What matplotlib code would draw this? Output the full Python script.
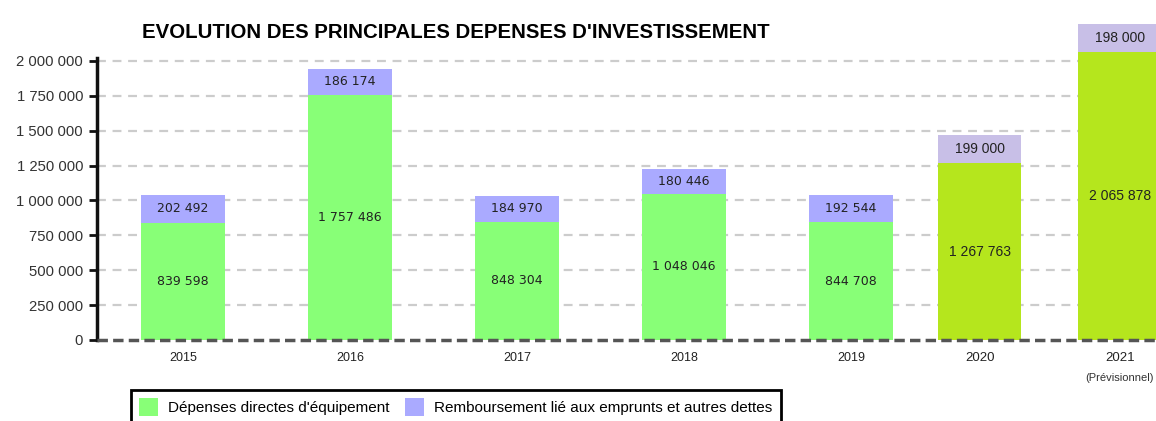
import matplotlib.pyplot as plt
import numpy as np

years = ['2015', '2016', '2017', '2018', '2019', '2020', '2021']
equipement = [839598, 1757486, 848304, 1048046, 844708, 1267763, 2065878]
remboursement = [202492, 186174, 184970, 180446, 192544, 199000, 198000]

# bar centres (the last two bars sit closer together in the original)
xpos = np.array([0, 1, 2, 3, 4, 4.77, 5.61])
green = ['#88ff77'] * 5 + ['#b5e61d'] * 2
purple = ['#aaaaff'] * 5 + ['#c8bfe7'] * 2

plt.rcParams['font.family'] = ['Liberation Sans', 'DejaVu Sans']

fig = plt.figure(figsize=(11.56, 4.21), dpi=100)
ax = fig.add_axes([0.0839, 0.1924, 0.9161, 0.6698])

for y in np.arange(250000, 2000001, 250000):
    ax.axhline(y, color='#cccccc', lw=1.6, ls=(0, (4, 3)), zorder=0)

b1 = ax.bar(xpos, equipement, width=0.5, color=green, zorder=2, clip_on=False,
            label="Dépenses directes d'équipement")
b2 = ax.bar(xpos, remboursement, width=0.5, bottom=equipement, color=purple,
            zorder=2, clip_on=False,
            label='Remboursement lié aux emprunts et autres dettes')

def fmt(v):
    return f'{v:,}'.replace(',', ' ')

for i, x in enumerate(xpos):
    fam = 'DejaVu Sans' if i < 5 else 'Liberation Sans'
    fs = 9 if i < 5 else 10
    ax.text(x, equipement[i] / 2, fmt(equipement[i]), ha='center', va='center',
            fontsize=fs, family=fam, color='#222222', zorder=3)
    ax.text(x, equipement[i] + remboursement[i] / 2, fmt(remboursement[i]),
            ha='center', va='center', fontsize=fs, family=fam,
            color='#222222', zorder=3, clip_on=False)

ax.axhline(0, color='#555555', lw=2.5, ls=(0, (3, 1.5)), zorder=4, clip_on=False)

ax.set_xlim(-0.515, 5.826)
ax.set_ylim(0, 2020000)
ax.set_yticks(np.arange(0, 2000001, 250000))
ax.set_yticklabels([fmt(v) for v in range(0, 2000001, 250000)],
                   fontsize=10.7, color='#333333')
ax.tick_params(axis='y', length=6, width=2, color='#111111', pad=4)

ax.set_xticks(xpos)
ax.set_xticklabels(years, fontsize=9, color='#222222')
for lab in ax.get_xticklabels()[5:]:
    lab.set_fontsize(9.5)
ax.tick_params(axis='x', length=0, pad=9)
ax.text(xpos[6], -0.135, '(Prévisionnel)', transform=ax.get_xaxis_transform(),
        ha='center', va='center', fontsize=8, color='#333333')

for s in ['top', 'right', 'bottom']:
    ax.spines[s].set_visible(False)
ax.spines['left'].set_linewidth(2.5)
ax.spines['left'].set_color('#111111')

fig.text(0.394, 0.923, "EVOLUTION DES PRINCIPALES DEPENSES D'INVESTISSEMENT",
         ha='center', va='center', fontsize=14.7, fontweight='bold')

leg = fig.legend(handles=[b1, b2], loc='upper left', bbox_to_anchor=(0.1133, 0.0736),
                 bbox_transform=fig.transFigure, borderaxespad=0,
                 ncol=2, fontsize=11, frameon=True, fancybox=False,
                 handlelength=1.25, handleheight=1.35, handletextpad=0.65,
                 columnspacing=1.0, borderpad=0.55)
leg.get_frame().set_edgecolor('#000000')
leg.get_frame().set_linewidth(2)
leg.get_frame().set_alpha(1)
leg._legend_box.set_offset  # keep default layout

fig.savefig('out.png', dpi=100)
